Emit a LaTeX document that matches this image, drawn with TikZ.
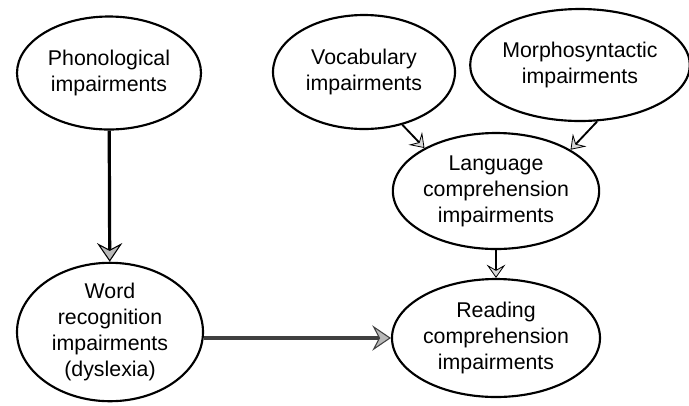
\documentclass[tikz,border=0pt]{standalone}
\usepackage{fontspec}
\setmainfont{Liberation Sans}
\usetikzlibrary{shapes.geometric,arrows.meta}
\begin{document}
\begin{tikzpicture}[x=0.75pt,y=-0.75pt,
  oval/.style={ellipse,draw=black,line width=1.6pt,inner sep=0pt,
    align=center,font=\fontsize{16}{19.5}\selectfont},
  bigarrow/.style={line width=2.4pt,
    -{Stealth[length=14pt,width=19pt,inset=5pt,fill=gray!55,line width=0.8pt]}},
  smallarrow/.style={line width=1.4pt,
    -{Stealth[length=10pt,width=14pt,inset=4pt,fill=gray!30,line width=0.6pt]}}]
\useasboundingbox (0,0) rectangle (689,405);
\node[oval,minimum width=184*0.75pt,minimum height=113*0.75pt] (phon) at (109,73) {Phonological\\impairments};
\node[oval,minimum width=182*0.75pt,minimum height=114*0.75pt] (vocab) at (364,72) {Vocabulary\\impairments};
\node[oval,minimum width=212*0.75pt,minimum height=112*0.75pt] (morph) at (580,65) {Morphosyntactic\\impairments};
\node[oval,minimum width=203*0.75pt,minimum height=116*0.75pt] (lang) at (496,191) {Language\\comprehension\\impairments};
\node[oval,minimum width=208*0.75pt,minimum height=118*0.75pt] (read) at (496,338) {Reading\\comprehension\\impairments};
\node[oval,minimum width=186*0.75pt,minimum height=128*0.75pt] (word) at (110,332) {Word\\recognition\\impairments\\(dyslexia)};
\draw[bigarrow] (phon) -- (word);
\draw[bigarrow,draw=black!75] (read.west -| word.east) -- (read.west);
\draw[smallarrow] (vocab.-54) -- (lang.149);
\draw[smallarrow] (morph.-73) -- (lang.29);
\draw[smallarrow] (lang) -- (read);
\end{tikzpicture}
\end{document}
